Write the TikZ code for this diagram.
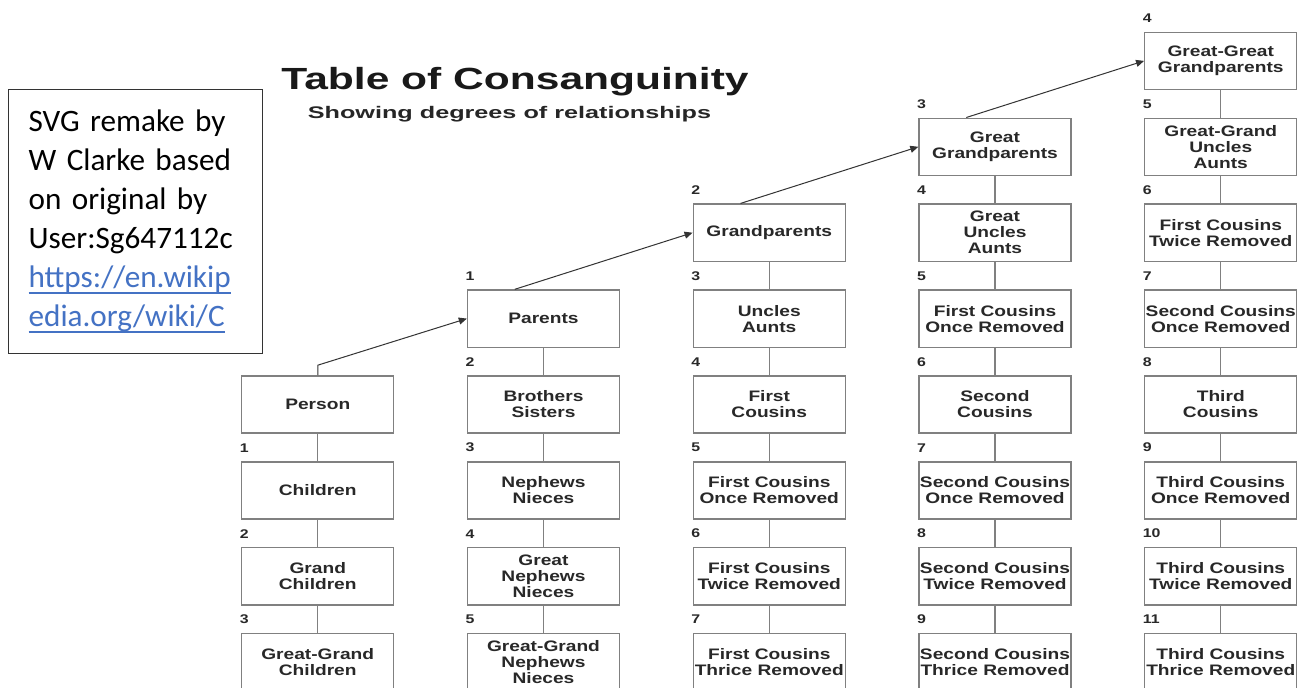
\documentclass[tikz,border=0pt]{standalone}
\usepackage{fontspec}
\usetikzlibrary{arrows.meta,calc,positioning}
\setmainfont{Liberation Sans}
\newfontfamily\boxfont{Liberation Sans}[FakeStretch=1.26]
\newfontfamily\titlefont{Liberation Sans}[FakeStretch=1.39]
\newfontfamily\subtitlefont{Liberation Sans}[FakeStretch=1.5]
\newfontfamily\notefont{Carlito}
\definecolor{boxgray}{RGB}{128,128,128}
\definecolor{textgray}{RGB}{40,40,40}
\definecolor{linkblue}{RGB}{68,114,196}
\newsavebox\weblinkbox
\newcommand\weblink[1]{\leavevmode\sbox\weblinkbox{#1}\rlap{\rule[-3pt]{\wd\weblinkbox}{0.9pt}}\usebox\weblinkbox}

\begin{document}
\begin{tikzpicture}[x=0.5pt, y=-0.5pt,
    kinbox/.style={draw=boxgray, line width=0.7pt, minimum width=76pt, minimum height=28.6pt,
        inner xsep=0pt, inner ysep=1pt, align=center, text=textgray,
        font=\boxfont\bfseries\fontsize{7.6}{8}\selectfont},
    degree/.style={anchor=south west, inner sep=0pt, text=textgray,
        font=\boxfont\bfseries\fontsize{6.3}{6.3}\selectfont},
    kinline/.style={draw=boxgray, line width=0.7pt},
    climb/.style={draw=black!80, line width=0.5pt, -{Triangle[length=4pt,width=3.5pt]}}]

    \fill[white] (0,0) rectangle (1297,687);
    \useasboundingbox (0,0) rectangle (1297,687);
    \clip (0,0) rectangle (1297,687);

    % Title
    \node[anchor=base, text=black!90, font=\titlefont\bfseries\fontsize{15.3}{18}\selectfont]
        (title) at (515, 89) {Table of Consanguinity};
    \node[anchor=base, text=black!85, font=\subtitlefont\bfseries\fontsize{8.4}{10}\selectfont]
        (subtitle) at (509.5, 118) {Showing degrees of relationships};

    % Note box
    \node[draw=black!80, line width=0.6pt, anchor=north west, minimum width=127pt, minimum height=132pt,
        text width=107pt, inner xsep=10pt, align=left, font=\notefont\fontsize{15.6}{19.5}\selectfont]
        (note) at (8, 89) {SVG remake by\\W Clarke based\\on original by\\User:Sg647112c\\
        \textcolor{linkblue}{\weblink{https://en.wikip}}\\\textcolor{linkblue}{\weblink{edia.org/wiki/C}}};

    % Column 0 - person and descendants
    \foreach \r/\deg/\txt in {4/0/Person, 5/1/Children, 6/2/{Grand\\Children}, 7/3/{Great-Grand\\Children}}
        \node[kinbox] (b0-\r) at (317.75, {60.9+85.9*\r}) {\txt};

    % Column 1
    \foreach \r/\deg/\txt in {3/1/Parents, 4/2/{Brothers\\Sisters}, 5/3/{Nephews\\Nieces},
        6/4/{Great\\Nephews\\Nieces}, 7/5/{Great-Grand\\Nephews\\Nieces}}
        \node[kinbox] (b1-\r) at (543.5, {60.9+85.9*\r}) {\txt};

    % Column 2
    \foreach \r/\deg/\txt in {2/2/Grandparents, 3/3/{Uncles\\Aunts}, 4/4/{First\\Cousins},
        5/5/{First Cousins\\Once Removed}, 6/6/{First Cousins\\Twice Removed}, 7/7/{First Cousins\\Thrice Removed}}
        \node[kinbox] (b2-\r) at (769.25, {60.9+85.9*\r}) {\txt};

    % Column 3
    \foreach \r/\deg/\txt in {1/3/{Great\\Grandparents}, 2/4/{Great\\Uncles\\Aunts}, 3/5/{First Cousins\\Once Removed},
        4/6/{Second\\Cousins}, 5/7/{Second Cousins\\Once Removed}, 6/8/{Second Cousins\\Twice Removed},
        7/9/{Second Cousins\\Thrice Removed}}
        \node[kinbox] (b3-\r) at (995, {60.9+85.9*\r}) {\txt};

    % Column 4
    \foreach \r/\deg/\txt in {0/4/{Great-Great\\Grandparents}, 1/5/{Great-Grand\\Uncles\\Aunts},
        2/6/{First Cousins\\Twice Removed}, 3/7/{Second Cousins\\Once Removed}, 4/8/{Third\\Cousins},
        5/9/{Third Cousins\\Once Removed}, 6/10/{Third Cousins\\Twice Removed}, 7/11/{Third Cousins\\Thrice Removed}}
        \node[kinbox] (b4-\r) at (1220.75, {60.9+85.9*\r}) {\txt};

    % Degree numbers above the boxes
    \foreach \j/\first in {0/4, 1/3, 2/2, 3/1, 4/0} {
        \foreach \r in {\first,...,7} {
            \pgfmathtruncatemacro\deg{\j+\r-\first}
            \ifnum\deg>0
                \node[degree] (d\j-\r) at ([xshift=-0.8pt, yshift=4.3pt]b\j-\r.north west) {\deg};
            \fi
        }
    }

    % Vertical links in each column
    \foreach \j/\first in {0/4, 1/3, 2/2, 3/1, 4/0} {
        \foreach \r in {\first,...,6} {
            \pgfmathtruncatemacro\nxt{\r+1}
            \draw[kinline] (b\j-\r.south) -- (b\j-\nxt.north);
        }
    }

    % Ascending arrows
    \draw[climb] (b0-4.north) -- ++(0,-10) -- (b1-3.west);
    \foreach \j/\r in {1/3, 2/2, 3/1} {
        \pgfmathtruncatemacro\nj{\j+1}
        \pgfmathtruncatemacro\nr{\r-1}
        \draw[climb] ($(b\j-\r.north west)+(48,0)$) -- (b\nj-\nr.west);
    }

\end{tikzpicture}
\end{document}
